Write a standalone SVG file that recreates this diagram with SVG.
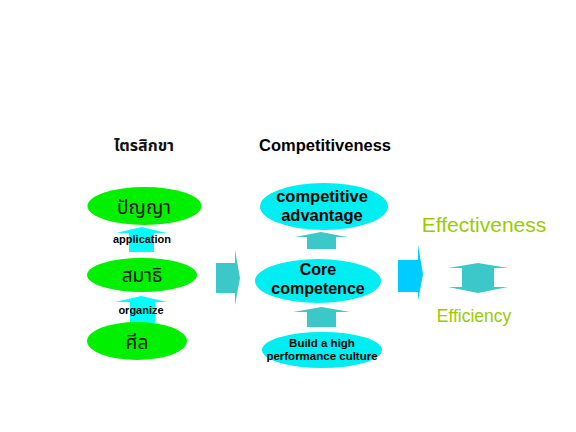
<svg xmlns="http://www.w3.org/2000/svg" width="576" height="432" viewBox="0 0 576 432">
<style>
.thai{font-family:"Noto Sans Thai","Noto Sans","DejaVu Sans",sans-serif;fill:#111;text-anchor:middle}
.b{font-family:"Liberation Sans",Arial,sans-serif;font-weight:bold;fill:#000;text-anchor:middle}
.g{font-family:"Liberation Sans",Arial,sans-serif;fill:#99CC00;text-anchor:middle}
.green{fill:#00F000}
.cyan{fill:#00EEF2}
.lc{fill:#00FFFF}
.teal{fill:#3CC8C8}
.blue{fill:#00CCFF}
</style>
<rect width="576" height="432" fill="#fff"/>
<g id="title-trisikkha"><text class="thai" x="144" y="151" font-size="16" font-weight="bold">ไตรสิกขา</text></g>
<g id="title-competitiveness"><text class="b" x="325" y="151" font-size="16.5">Competitiveness</text></g>
<g id="connectors">
<polygon class="lc" points="141.5,227 167,233 154,233 154,252 129,252 129,233 116,233"/>
<polygon class="lc" points="141,296 167,302 155,302 155,323 130,323 130,302 115,302"/>
<polygon class="teal" points="321,232 347,237 336,237 336,249 307,249 307,237 295,237"/>
<polygon class="teal" points="321.5,307 350,312 336,312 336,327 307,327 307,312 293,312"/>
<polygon class="teal" points="216,263 235,263 235,250 240,278 235,305 235,293 216,293"/>
<polygon class="blue" points="398,260 418,260 418,245 423,274 418,301 418,292 398,292"/>
<polygon class="teal" points="478,263 508,268 494,268 494,287 508,287 478,293 448,287 462,287 462,268 448,268"/>
</g>
<g id="node-panya"><ellipse class="green" cx="144.5" cy="206" rx="57" ry="19"/><text class="thai" x="144" y="214" font-size="19">ปัญญา</text></g>
<g id="label-application"><text class="b" x="142" y="243" font-size="11">application</text></g>
<g id="node-samadhi"><ellipse class="green" cx="142" cy="275" rx="55" ry="17"/><text class="thai" x="142" y="282" font-size="19">สมาธิ</text></g>
<g id="label-organize"><text class="b" x="141" y="314" font-size="11">organize</text></g>
<g id="node-sila"><ellipse class="green" cx="137" cy="341" rx="50" ry="19"/><text class="thai" x="137" y="349" font-size="19">ศีล</text></g>
<g id="node-advantage"><ellipse class="cyan" cx="324" cy="206.5" rx="64" ry="23.5"/><text class="b" x="322" y="202" font-size="16.5">competitive</text><text class="b" x="322" y="221" font-size="16.5">advantage</text></g>
<g id="node-core"><ellipse class="cyan" cx="318" cy="281" rx="63" ry="22"/><text class="b" x="318" y="275" font-size="16">Core</text><text class="b" x="318" y="294" font-size="16">competence</text></g>
<g id="node-build"><ellipse class="cyan" cx="322" cy="350" rx="60" ry="18"/><text class="b" x="322" y="347" font-size="11.5">Build a high</text><text class="b" x="322" y="360" font-size="11.5">performance culture</text></g>
<g id="label-effectiveness"><text class="g" x="484" y="232" font-size="21">Effectiveness</text></g>
<g id="label-efficiency"><text class="g" x="474" y="322" font-size="17.5">Efficiency</text></g>
</svg>
